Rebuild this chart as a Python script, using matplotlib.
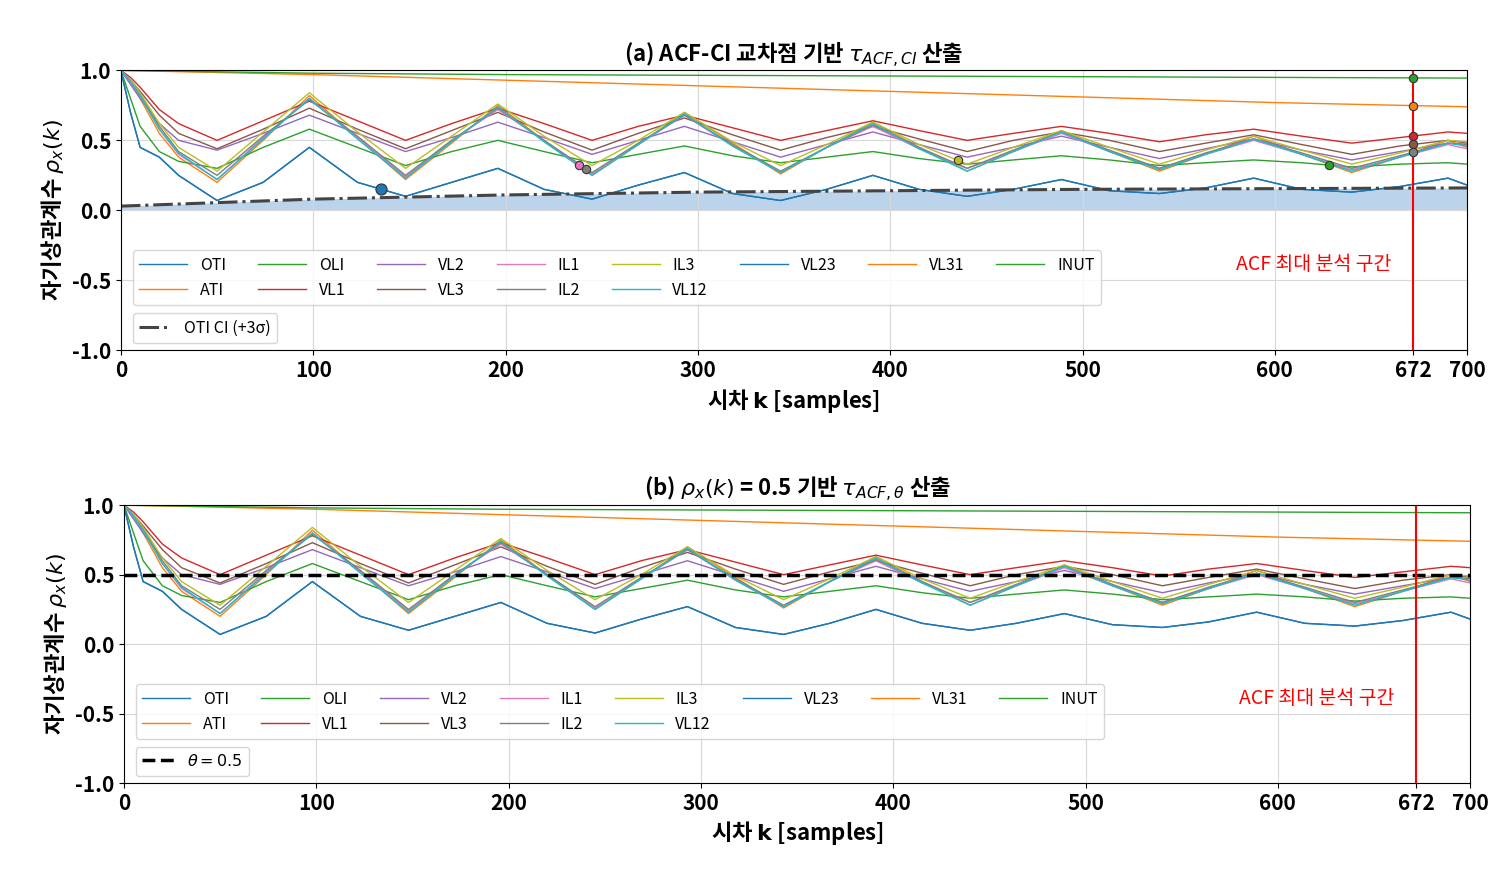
import numpy as np
import matplotlib
matplotlib.use("Agg")
import matplotlib.pyplot as plt

plt.rcParams['font.family'] = ['Noto Sans CJK KR', 'DejaVu Sans']
plt.rcParams['axes.unicode_minus'] = False

# keyframe lags (peaks / troughs)
K = [0, 5, 10, 20, 30, 50, 74, 98, 123, 148, 172, 196, 220, 245, 269, 293, 318,
     343, 367, 391, 415, 440, 464, 489, 514, 540, 564, 589, 614, 640, 665, 690, 700]
K_SLOW = [0, 100, 200, 300, 400, 500, 600, 700]

OTI = [1.0, 0.7, 0.45, 0.38, 0.25, 0.07, 0.2, 0.45, 0.2, 0.1, 0.2, 0.3, 0.15, 0.08, 0.18, 0.27, 0.12,
       0.07, 0.15, 0.25, 0.15, 0.1, 0.15, 0.22, 0.14, 0.12, 0.16, 0.23, 0.15, 0.13, 0.17, 0.23, 0.18]
ATI = [1.0, 0.93, 0.8, 0.55, 0.38, 0.2, 0.5, 0.82, 0.52, 0.22, 0.48, 0.75, 0.5, 0.25, 0.47, 0.70, 0.48,
       0.26, 0.45, 0.63, 0.45, 0.28, 0.42, 0.57, 0.42, 0.28, 0.40, 0.53, 0.40, 0.27, 0.38, 0.50, 0.45]
OLI = [1.0, 0.8, 0.6, 0.42, 0.35, 0.3, 0.45, 0.58, 0.45, 0.32, 0.42, 0.5, 0.42, 0.34, 0.4, 0.46, 0.39,
       0.34, 0.38, 0.42, 0.37, 0.33, 0.36, 0.39, 0.36, 0.32, 0.34, 0.36, 0.34, 0.31, 0.33, 0.34, 0.33]
VL1 = [1.0, 0.95, 0.88, 0.72, 0.62, 0.5, 0.64, 0.78, 0.64, 0.5, 0.62, 0.73, 0.62, 0.5, 0.6, 0.68, 0.59,
       0.5, 0.57, 0.64, 0.57, 0.5, 0.55, 0.6, 0.55, 0.49, 0.54, 0.58, 0.53, 0.48, 0.52, 0.56, 0.55]
VL2 = [1.0, 0.9, 0.8, 0.62, 0.5, 0.43, 0.55, 0.68, 0.55, 0.42, 0.52, 0.63, 0.52, 0.4, 0.5, 0.6, 0.49,
       0.38, 0.47, 0.56, 0.47, 0.38, 0.45, 0.53, 0.45, 0.37, 0.44, 0.51, 0.43, 0.36, 0.42, 0.48, 0.47]
VL3 = [1.0, 0.93, 0.85, 0.68, 0.55, 0.44, 0.58, 0.73, 0.58, 0.44, 0.57, 0.7, 0.56, 0.43, 0.55, 0.66, 0.54,
       0.43, 0.52, 0.6, 0.51, 0.42, 0.5, 0.56, 0.5, 0.42, 0.48, 0.54, 0.47, 0.4, 0.46, 0.5, 0.48]
IL1 = [1.0, 0.92, 0.82, 0.58, 0.4, 0.22, 0.52, 0.8, 0.52, 0.24, 0.5, 0.72, 0.5, 0.26, 0.47, 0.68, 0.46,
       0.27, 0.45, 0.6, 0.44, 0.3, 0.42, 0.55, 0.42, 0.3, 0.4, 0.5, 0.4, 0.29, 0.38, 0.47, 0.44]
IL2 = [1.0, 0.92, 0.83, 0.6, 0.42, 0.25, 0.53, 0.79, 0.53, 0.25, 0.5, 0.73, 0.5, 0.27, 0.48, 0.68, 0.47,
       0.28, 0.45, 0.61, 0.45, 0.3, 0.43, 0.56, 0.43, 0.3, 0.41, 0.51, 0.41, 0.3, 0.39, 0.48, 0.47]
IL3 = [1.0, 0.93, 0.84, 0.62, 0.45, 0.28, 0.56, 0.84, 0.56, 0.3, 0.53, 0.76, 0.53, 0.32, 0.5, 0.7, 0.49,
       0.32, 0.47, 0.63, 0.47, 0.33, 0.45, 0.57, 0.45, 0.33, 0.43, 0.53, 0.43, 0.33, 0.41, 0.5, 0.49]
VL12 = [1.0, 0.92, 0.82, 0.58, 0.41, 0.22, 0.51, 0.8, 0.51, 0.23, 0.49, 0.74, 0.49, 0.25, 0.47, 0.69, 0.46,
        0.27, 0.45, 0.62, 0.44, 0.28, 0.42, 0.56, 0.42, 0.29, 0.4, 0.51, 0.4, 0.28, 0.38, 0.48, 0.46]
VL23 = [1.0, 0.7, 0.45, 0.38, 0.25, 0.07, 0.2, 0.45, 0.2, 0.1, 0.2, 0.3, 0.15, 0.08, 0.18, 0.27, 0.12,
        0.07, 0.15, 0.25, 0.15, 0.1, 0.15, 0.22, 0.14, 0.12, 0.16, 0.23, 0.15, 0.13, 0.17, 0.23, 0.18]
VL31 = [1.0, 0.97, 0.93, 0.89, 0.85, 0.81, 0.77, 0.74]
INUT = [1.0, 0.98, 0.97, 0.965, 0.96, 0.955, 0.95, 0.945]
OTI_CI = [0.03, 0.08, 0.11, 0.13, 0.14, 0.15, 0.155, 0.16]

FAST = [("OTI", OTI), ("ATI", ATI), ("OLI", OLI), ("VL1", VL1), ("VL2", VL2), ("VL3", VL3),
        ("IL1", IL1), ("IL2", IL2), ("IL3", IL3), ("VL12", VL12), ("VL23", VL23)]
SLOW = [("VL31", VL31), ("INUT", INUT)]

# tau markers in panel (a): series name -> lag
MARKS = [("OTI", 135), ("IL1", 238), ("IL2", 242), ("IL3", 435), ("OLI", 628),
         ("INUT", 672), ("VL31", 672), ("VL1", 672), ("VL3", 672), ("IL2", 672)]
K_MAX = 672
THETA = 0.5


def draw_series(ax):
    colors = {}
    for i, (name, vals) in enumerate(FAST + SLOW):
        xs = K if len(vals) == len(K) else K_SLOW
        line, = ax.plot(xs, vals, lw=1.0, color=f"C{i % 10}", label=name)
        colors[name] = (xs, vals, line.get_color())
    return colors


def style_axes(ax, title):
    ax.set_xlim(0, 700)
    ax.set_ylim(-1.0, 1.0)
    ax.set_xticks([0, 100, 200, 300, 400, 500, 600, 672, 700])
    ax.set_yticks([-1.0, -0.5, 0.0, 0.5, 1.0])
    ax.set_yticklabels(["-1.0", "-0.5", "0.0", "0.5", "1.0"])
    ax.tick_params(labelsize=15)
    for lab in ax.get_xticklabels() + ax.get_yticklabels():
        lab.set_fontweight("bold")
    ax.grid(True, color="#d8d8d8", lw=0.8)
    ax.set_title(title, fontsize=16, fontweight="bold")
    ax.set_xlabel(r"시차 $\mathbf{k}$ [samples]", fontsize=16, fontweight="bold")
    ax.set_ylabel(r"자기상관계수 $\rho_x(k)$", fontsize=16, fontweight="bold")
    ax.axvline(K_MAX, color="red", lw=1.5)
    ax.text(620, -0.39, "ACF 최대 분석 구간", color="red", fontsize=14, ha="center", va="center")


def add_legends(ax, extra_handle, extra_label):
    h, l = ax.get_legend_handles_labels()
    leg = ax.legend(h[:13], l[:13], ncol=8, loc="upper left", bbox_to_anchor=(0.003, 0.385),
                    fontsize=11.5, handlelength=3, columnspacing=2.0)
    ax.add_artist(leg)
    ax.legend([extra_handle], [extra_label], loc="upper left", bbox_to_anchor=(0.003, 0.16), fontsize=11.5)


fig = plt.figure(figsize=(15.11, 8.8), dpi=100)
ax1 = fig.add_axes([0.08, 0.602, 0.891, 0.318])
ax2 = fig.add_axes([0.082, 0.110, 0.891, 0.316])

# panel (a)
series = draw_series(ax1)
ci_line, = ax1.plot(K_SLOW, OTI_CI, color="#444444", lw=2.2, ls="-.", label="OTI CI (+3σ)")
ax1.fill_between(K_SLOW, 0, OTI_CI, color="#9ec3e3", alpha=0.7, lw=0)
for name, k in MARKS:
    xs, vals, c = series[name]
    size = 8 if name == "OTI" else 6
    ax1.plot(k, np.interp(k, xs, vals), "o", color=c, mec="#333333", mew=0.8, ms=size, zorder=5)
style_axes(ax1, r"(a) ACF-CI 교차점 기반 $\tau_{ACF,CI}$ 산출")
add_legends(ax1, ci_line, "OTI CI (+3σ)")

# panel (b)
draw_series(ax2)
th_line = ax2.axhline(THETA, color="black", lw=2.5, ls="--")
style_axes(ax2, r"(b) $\rho_x(k)$ = 0.5 기반 $\tau_{ACF,\theta}$ 산출")
add_legends(ax2, th_line, r"$\theta = 0.5$")

fig.savefig("out.png", dpi=100)
